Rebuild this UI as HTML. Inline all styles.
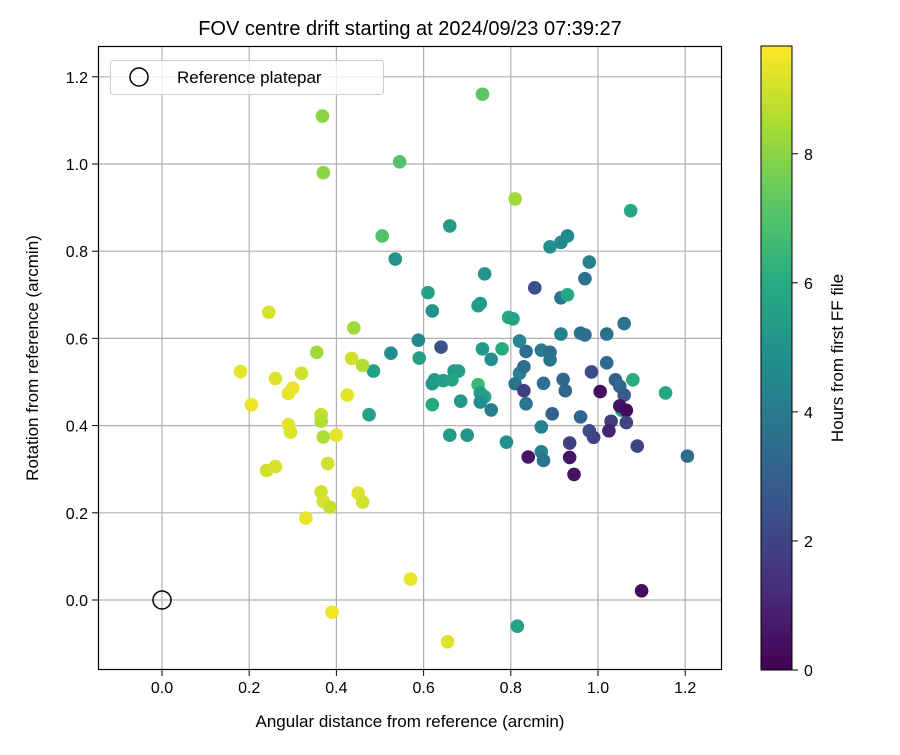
<!DOCTYPE html>
<html><head><meta charset="utf-8"><style>
html,body{margin:0;padding:0;background:#fff;}
svg text{font-family:"Liberation Sans","DejaVu Sans",sans-serif;fill:#000;}
</style></head><body>
<svg id="chart" width="900" height="750" xmlns="http://www.w3.org/2000/svg">
<text x="410" y="35" font-size="20" text-anchor="middle">FOV centre drift starting at 2024/09/23 07:39:27</text>
<g id="grid"></g>
<g id="pts"></g>
<rect x="98.5" y="46.5" width="623" height="623" fill="none" stroke="#000" stroke-width="1.2"/>
<g id="ticks"></g>
<text x="410" y="727" font-size="17" text-anchor="middle">Angular distance from reference (arcmin)</text>
<text transform="translate(38,358) rotate(-90)" font-size="17" text-anchor="middle">Rotation from reference (arcmin)</text>
<g>
<rect x="110.5" y="60.5" width="273" height="34" rx="3" fill="#fff" fill-opacity="0.8" stroke="#ccc"/>
<circle cx="139" cy="77" r="9" fill="none" stroke="#000" stroke-width="1.5"/>
<text x="177" y="83" font-size="17">Reference platepar</text>
</g>
<defs><linearGradient id="vir" x1="0" y1="1" x2="0" y2="0"></linearGradient></defs>
<rect x="761" y="46" width="31" height="624" fill="url(#vir)" stroke="#000" stroke-width="1"/>
<g id="cbticks"></g>
<text transform="translate(843,358) rotate(-90)" font-size="17" text-anchor="middle">Hours from first FF file</text>
</svg>
<script>
const xs=[0.735,0.368,0.37,0.545,0.81,0.505,0.535,0.66,1.075,0.93,0.915,0.89,0.98,0.97,0.915,0.93,0.74,0.61,0.62,0.725,0.73,0.855,0.795,0.805,1.06,0.588,0.64,0.525,0.59,0.735,0.78,0.82,0.835,0.87,0.89,0.89,0.915,0.96,0.97,1.02,0.755,0.485,0.67,0.68,0.625,0.62,0.645,0.665,0.725,0.73,0.74,0.685,0.73,0.62,0.755,0.81,0.82,0.83,0.83,0.835,0.875,0.92,0.925,0.985,1.02,1.04,1.05,1.06,1.08,1.155,1.005,0.96,0.895,0.98,0.99,1.03,1.025,1.055,1.05,1.065,1.065,1.09,0.935,0.87,0.79,0.87,0.875,0.84,0.935,0.945,1.205,1.1,0.815,0.66,0.70,0.475,0.18,0.205,0.245,0.26,0.24,0.26,0.29,0.30,0.32,0.29,0.295,0.355,0.365,0.365,0.37,0.38,0.40,0.365,0.37,0.385,0.33,0.425,0.435,0.44,0.46,0.45,0.46,0.57,0.39,0.655];
const ys=[1.16,1.11,0.98,1.005,0.92,0.835,0.782,0.858,0.893,0.835,0.82,0.81,0.775,0.737,0.693,0.70,0.748,0.705,0.663,0.675,0.68,0.716,0.648,0.645,0.634,0.596,0.58,0.566,0.555,0.576,0.576,0.594,0.57,0.573,0.568,0.551,0.61,0.612,0.608,0.61,0.552,0.525,0.525,0.525,0.505,0.496,0.503,0.505,0.494,0.475,0.466,0.456,0.454,0.448,0.436,0.496,0.52,0.535,0.48,0.45,0.497,0.506,0.48,0.523,0.544,0.505,0.49,0.47,0.505,0.475,0.478,0.42,0.427,0.388,0.373,0.41,0.388,0.435,0.445,0.435,0.407,0.353,0.36,0.397,0.362,0.34,0.32,0.328,0.327,0.288,0.33,0.021,-0.06,0.378,0.378,0.425,0.524,0.448,0.66,0.508,0.297,0.306,0.474,0.486,0.52,0.402,0.385,0.568,0.425,0.41,0.374,0.313,0.378,0.248,0.226,0.213,0.188,0.47,0.554,0.624,0.538,0.245,0.225,0.048,-0.028,-0.096];
const hours=[7.2,8.0,8.0,7.0,8.3,7.0,5.0,5.3,5.8,4.5,4.6,4.8,4.3,3.6,3.8,5.8,5.0,5.6,5.0,5.2,5.3,2.4,5.9,5.6,3.7,4.5,2.5,4.8,5.5,5.2,6.0,4.5,3.5,4.0,3.5,3.8,4.2,3.7,3.5,3.6,4.8,5.5,5.2,5.4,5.5,5.3,5.5,5.7,6.5,5.3,5.5,5.2,4.8,5.8,4.0,3.8,4.2,3.5,1.8,3.8,3.5,3.3,3.2,2.2,3.3,3.0,3.3,2.8,6.0,5.7,0.4,3.3,3.0,2.3,2.0,1.8,1.0,5.5,0.5,0.3,2.0,2.0,1.8,4.2,4.8,4.3,3.8,0.6,0.6,0.5,3.4,0.3,5.5,5.3,5.0,5.5,9.3,9.4,9.1,9.2,9.0,9.1,9.3,9.4,9.0,9.3,9.2,8.3,8.8,8.6,8.5,9.0,9.3,9.0,9.1,8.9,9.4,9.3,9.0,8.3,8.6,9.2,9.0,9.4,9.5,9.2];
const xTicks=[0.0,0.2,0.4,0.6,0.8,1.0,1.2];
const yTicks=[0.0,0.2,0.4,0.6,0.8,1.0,1.2];
const cTicks=[0,2,4,6,8];
const hMax=9.67;
const NS="http://www.w3.org/2000/svg";
const X=v=>162+v*436, Y=v=>600-v*436, C=h=>670-h*624/hMax;
const stops=[[0,[68,1,84]],[0.125,[71,44,122]],[0.25,[59,81,139]],[0.375,[44,113,142]],[0.5,[33,144,141]],[0.625,[39,173,129]],[0.75,[92,200,99]],[0.875,[170,220,50]],[1,[253,231,37]]];
function vir(t){t=Math.max(0,Math.min(1,t));for(let i=1;i<stops.length;i++){if(t<=stops[i][0]){const a=stops[i-1],b=stops[i],f=(t-a[0])/(b[0]-a[0]);return 'rgb('+a[1].map((c,k)=>Math.round(c+(b[1][k]-c)*f)).join(',')+')';}}return 'rgb(253,231,37)';}
function mk(tag,at,parent){const e=document.createElementNS(NS,tag);for(const k in at)e.setAttribute(k,at[k]);parent.appendChild(e);return e;}
const g=document.getElementById('grid'),tk=document.getElementById('ticks');
xTicks.forEach(v=>{const l=mk('line',{x1:X(v),x2:X(v),y1:46,y2:670,stroke:'#b0b0b0','stroke-width':1.2},g);


mk('line',{x1:X(v),x2:X(v),y1:670,y2:676,stroke:'#000'},tk);
const t=mk('text',{x:X(v),y:693,'font-size':16,'text-anchor':'middle'},tk);t.textContent=v.toFixed(1);

});
yTicks.forEach(v=>{const l=mk('line',{x1:98,x2:722,y1:Y(v),y2:Y(v),stroke:'#b0b0b0','stroke-width':1.2},g);


mk('line',{x1:92,x2:98,y1:Y(v),y2:Y(v),stroke:'#000'},tk);
const t=mk('text',{x:88,y:Y(v)+6,'font-size':16,'text-anchor':'end'},tk);t.textContent=v.toFixed(1);

});
const p=document.getElementById('pts');
xs.forEach((x,i)=>{const c=mk('circle',{cx:X(x),cy:Y(ys[i]),r:6.8,fill:vir(hours[i]/hMax)},p);

});
const ref=mk('circle',{cx:X(0),cy:Y(0),r:9,fill:'none',stroke:'#000','stroke-width':1.5},p);


const gr=document.getElementById('vir');
stops.forEach(s=>mk('stop',{offset:s[0],'stop-color':'rgb('+s[1].join(',')+')'},gr));
const cb=document.getElementById('cbticks');
cTicks.forEach(v=>{mk('line',{x1:792,x2:798,y1:C(v),y2:C(v),stroke:'#000'},cb);
const t=mk('text',{x:804,y:C(v)+6,'font-size':16},cb);t.textContent=v;

});
</script>
</body></html>
